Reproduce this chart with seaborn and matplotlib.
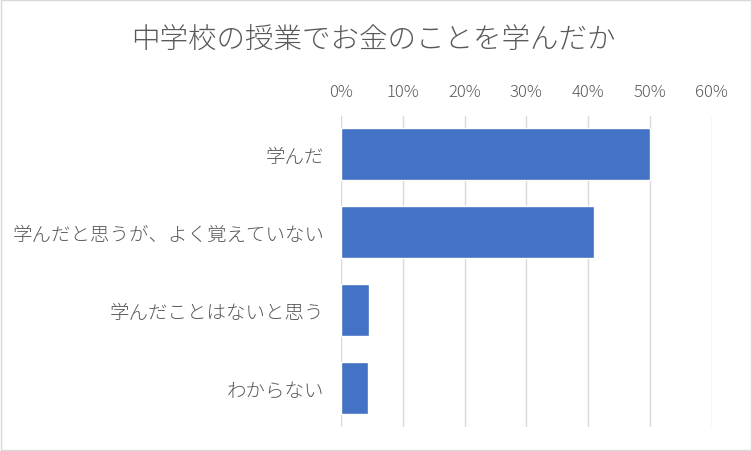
import matplotlib
matplotlib.use("Agg")
import matplotlib.pyplot as plt
import seaborn as sns
import pandas as pd
from matplotlib.ticker import PercentFormatter
from matplotlib.patches import FancyBboxPatch

categories = ["学んだ", "学んだと思うが、よく覚えていない", "学んだことはないと思う", "わからない"]
values = [50.0, 41.0, 4.5, 4.4]
xticks = [0, 10, 20, 30, 40, 50, 60]
title = "中学校の授業でお金のことを学んだか"

sns.set_theme(style="white")
plt.rcParams['font.family'] = ['Noto Sans CJK JP', 'DejaVu Sans']

df = pd.DataFrame({"cat": categories, "val": values})

fig = plt.figure(figsize=(7.52, 4.52), dpi=100)
ax = fig.add_axes([341/752, 1 - 428/452, (711.5 - 341)/752, (428 - 116.5)/452])

sns.barplot(data=df, x="val", y="cat", orient="h", color="#4472C4",
            width=0.667, saturation=1, ax=ax, zorder=3)

ax.set_xlim(0, 60)
ax.set_ylim(3.5, -0.5)
ax.set_xticks(xticks)
ax.xaxis.set_major_formatter(PercentFormatter(decimals=0))
ax.xaxis.tick_top()
ax.xaxis.set_label_position("top")
ax.set_xlabel("")
ax.set_ylabel("")
ax.grid(axis="x", color="#D9D9D9", linewidth=1.0, zorder=0)
ax.grid(axis="y", visible=False)
for s in ax.spines.values():
    s.set_visible(False)
ax.tick_params(axis="x", length=0, pad=11, labelsize=12, labelcolor="#595959")
ax.tick_params(axis="y", length=0, pad=12, labelsize=14, labelcolor="#595959")
for lab in ax.get_xticklabels() + ax.get_yticklabels():
    lab.set_fontweight("light")

fig.text(373/752, 1 - 41/452, title, ha="center", va="center",
         fontsize=20.5, color="#595959", fontweight="light")

border = FancyBboxPatch((1/752, 1/452), 750/752, 450/452, transform=fig.transFigure,
                        boxstyle="square,pad=0", fill=False, edgecolor="#D9D9D9",
                        linewidth=1.0)
fig.patches.append(border)

fig.savefig("out.png", dpi=100)
